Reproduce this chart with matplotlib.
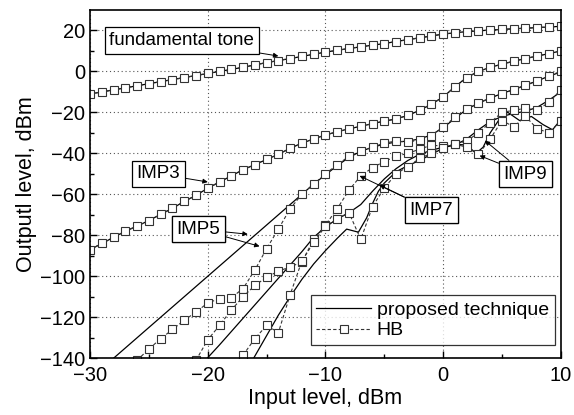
import numpy as np
import matplotlib
matplotlib.use("Agg")
import matplotlib.pyplot as plt
from matplotlib.lines import Line2D

plt.rcParams['font.family'] = ['Liberation Sans', 'DejaVu Sans']

# HB results, 1 dB input steps
x_fund = np.arange(-30, 11)
fund_hb = [-11, -10, -9, -8, -7, -6, -5, -4, -3, -2, -1, 0, 1, 2, 3.2, 4.3, 5.3,
           6.3, 7.3, 8.4, 9.4, 10.3, 11.2, 12, 12.8, 13.6, 14.6, 15.5, 16.4, 17.3,
           18.2, 18.9, 19.4, 19.8, 20.2, 20.5, 20.8, 21.1, 21.4, 21.7, 22.0]
imp3_hb = [-87, -84, -81, -78, -75.5, -72.8, -69.8, -66.8, -63.5, -60.5, -57, -54,
           -51, -48, -45.5, -43, -40.5, -37.5, -35, -33, -31, -29.5, -28, -26.8,
           -25.5, -24.3, -23.2, -21.5, -19, -16, -12.5, -7.5, -3, 0, 2, 3.5, 5, 6.3,
           7.5, 8.7, 10]
x_imp5_hb = np.arange(-26, 11)
imp5_hb = [-141, -135.5, -130.5, -126, -121.5, -117.5, -113, -111, -110.5, -106,
           -97, -86.5, -77, -67, -60, -55, -50, -45.5, -41.5, -39, -37, -35, -34,
           -34.5, -33.5, -31.5, -27, -22.5, -18.5, -15.5, -13, -11, -9, -6.8, -4.5,
           -2.2, 0]
x_imp7_hb = np.arange(-21, 11)
imp7_hb = [-141, -131, -124, -116.5, -110, -104.5, -100.5, -97.5, -95.5, -93, -82,
           -75, -67, -58, -51, -47, -44, -41.5, -40, -38, -36, -36.5, -35.5, -34,
           -30, -25, -20, -19, -18, -19, -15, -9]
x_imp9_hb = np.arange(-17, 11)
imp9_hb = [-138.5, -130.5, -124, -127.5, -109, -92.5, -83.5, -75.5, -72, -69, -82,
           -66, -57, -50, -46.5, -42.5, -40, -37.5, -35.5, -37, -40.5, -33, -24, -27,
           -22, -28, -30, -24]

# proposed technique
x_imp5 = [-28, -12, -11, -10, -9, -8, -7, -6, -5, -4, -3, -2, -1, 0, 1, 2, 3, 4,
          5, 6, 7, 8, 9, 10]
imp5 = [-140, -60, -55, -50.5, -46, -42, -39, -37, -35.5, -34.5, -34, -33, -31,
        -27.5, -23, -18.5, -15.5, -13, -10.8, -8.8, -6.8, -4.6, -2.3, -0.3]
x_imp7 = [-20.2, -19, -18, -17, -16, -15, -14, -13, -12, -11, -10, -9, -8, -7, -6,
          -5, -4, -3, -2, -1, 0, 1, 2, 3, 4, 5, 6, 7, 8, 9, 10]
imp7 = [-141, -133.5, -127, -120.5, -114, -107.5, -101, -94.5, -88, -81, -76, -72,
        -69, -65, -58.5, -52.5, -47.5, -43.5, -40.5, -38.5, -37, -36, -33, -28.5,
        -24.5, -22, -20.5, -19.5, -17.5, -14, -10]
x_imp9 = [-16.2, -15, -14, -13, -12, -11, -10, -9, -8.2, -7.2, -6.5, -6, -5.5, -5,
          -4, -3, -2, -1, 0, 1, 2, 2.8, 3.4, 4, 5, 5.5, 6.5, 7.5, 8.5, 9.3, 10]
imp9 = [-141, -129, -119, -110, -101.5, -94, -87.5, -81.5, -77, -78.5, -71.5, -64.5,
        -58.5, -54.5, -49, -46, -43.5, -40.5, -37.5, -35.5, -36, -40, -37, -30,
        -21.5, -20, -24, -22, -26, -28.5, -23.5]

fig = plt.figure(figsize=(5.74, 4.15), dpi=100)
ax = fig.add_axes([0.157, 0.137, 0.82, 0.839])

solid = dict(color='black', lw=0.9)
hb = dict(color='#333333', lw=0.8, ls=(0, (3, 2)), marker='s', ms=5.5,
          mfc='white', mec='#333333', mew=0.8)

ax.plot(x_fund, fund_hb, **solid)
ax.plot(x_fund, imp3_hb, **solid)
ax.plot(x_imp5, imp5, **solid)
ax.plot(x_imp7, imp7, **solid)
ax.plot(x_imp9, imp9, **solid)

ax.plot(x_fund, fund_hb, **hb)
ax.plot(x_fund, imp3_hb, **hb)
ax.plot(x_imp5_hb, imp5_hb, **hb)
ax.plot(x_imp7_hb, imp7_hb, **hb)
ax.plot(x_imp9_hb, imp9_hb, **hb)

ax.set_xlim(-30, 10)
ax.set_ylim(-140, 30)
ax.set_xticks([-30, -20, -10, 0, 10])
ax.set_xticks([-25, -15, -5, 5], minor=True)
ax.set_yticks(np.arange(-140, 21, 20))
ax.set_yticks(np.arange(-130, 30, 20), minor=True)
ax.tick_params(which='both', direction='in', labelsize=14.5, width=1)
ax.tick_params(which='major', length=5)
ax.tick_params(which='minor', length=3)
ax.tick_params(axis='x', pad=6)
ax.grid(True, which='major', color='#555555', lw=0.8, ls=(0, (1, 2.5)))
for s in ax.spines.values():
    s.set_linewidth(1.2)

ax.set_xlabel('Input level, dBm', fontsize=15.5, labelpad=2)
ax.set_ylabel('Outputl level, dBm', fontsize=15.5, labelpad=2)

box = dict(boxstyle='square,pad=0.25', fc='white', ec='black', lw=0.9)
arr = dict(arrowstyle='-|>', lw=0.7, color='black', mutation_scale=7,
           shrinkA=0, shrinkB=0)

ax.annotate('fundamental tone', xy=(-14.0, 7.5), xytext=(-22.2, 15.1),
            fontsize=13.5, ha='center', va='center', bbox=box, arrowprops=arr)
ax.annotate('IMP3', xy=(-20.0, -54), xytext=(-24.2, -50), fontsize=13.5,
            ha='center', va='center', bbox=box, arrowprops=arr)
ax.annotate('IMP5', xy=(-16.6, -79.5), xytext=(-20.8, -77), fontsize=13.5,
            ha='center', va='center', bbox=box, arrowprops=arr)
ax.annotate('IMP5', xy=(-15.6, -85.4), xytext=(-20.8, -77), fontsize=13.5,
            ha='center', va='center', bbox=box, arrowprops=arr)
ax.annotate('IMP7', xy=(-7.1, -51), xytext=(-1.0, -67.7), fontsize=13.5,
            ha='center', va='center', bbox=box, arrowprops=arr)
ax.annotate('IMP7', xy=(-5.4, -55.5), xytext=(-1.0, -67.7), fontsize=13.5,
            ha='center', va='center', bbox=box, arrowprops=arr)
ax.annotate('IMP9', xy=(3.55, -33.8), xytext=(7.0, -50.1), fontsize=13.5,
            ha='center', va='center', bbox=box, arrowprops=arr)
ax.annotate('IMP9', xy=(3.1, -41.1), xytext=(7.0, -50.1), fontsize=13.5,
            ha='center', va='center', bbox=box, arrowprops=arr)

handles = [Line2D([], [], **solid),
           Line2D([], [], **hb)]
leg = ax.legend(handles, ['proposed technique', 'HB'], loc='lower right',
                bbox_to_anchor=(0.987, 0.037), fontsize=14, frameon=True,
                fancybox=False, edgecolor='black', handlelength=2.8,
                handletextpad=0.3, borderpad=0.3, labelspacing=0.15,
                borderaxespad=0)
leg.get_frame().set_linewidth(0.9)

fig.savefig('out.png', dpi=100)
